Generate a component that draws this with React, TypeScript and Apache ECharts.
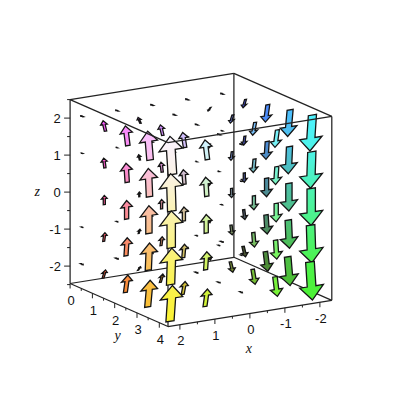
import React, { useEffect, useRef } from "react";
import * as echarts from "echarts";

const xs = [-2, -1, 0, 1, 2];
const ys = [0, 1, 2, 3, 4];
const zsDrawOrder = [2, 1, 0, -1, -2];
// vertical component: row per x, column per y
const vertical: Record<string, number[]> = {
  "-2": [0, -0.25, -0.5, -0.75, -1],
  "-1": [0, -0.125, -0.25, -0.375, -0.5],
  "0": [0, 0, 0, 0, 0],
  "1": [0, 0.125, 0.25, 0.375, 0.5],
  "2": [0, 0.25, 0.5, 0.75, 1],
};
// sideways (y-direction) component per z level
const lateral: Record<string, number> = { "2": -0.11, "1": -0.055, "0": 0, "-1": 0.055, "-2": 0.11 };
// colour channels
const redByX = [0.3, 0.47, 0.65, 0.82, 0.98];
const greenByY = [0.15, 0.35, 0.55, 0.75, 0.95];
const blueByZ = [0.2, 0.4, 0.6, 0.8, 1];

const zTicks = [-2, -1, 0, 1, 2];
const zMinor = [-2.5, -1.5, -0.5, 0.5, 1.5, 2.5];
const yTicks = [0, 1, 2, 3, 4];
const yMinor = [0.5, 1.5, 2.5, 3.5];
const xTicks = [2, 1, 0, -1, -2];
const xMinor = [1.5, 0.5, -0.5, -1.5];
const box = { xMin: -2.34, xMax: 2.34, yMin: 0, yMax: 4.39, zMin: -2.47, zMax: 2.5 };

const project = (x: number, y: number, z: number): [number, number] => [
  152 - 35 * x + 22.3 * y,
  179 + 5.6 * x + 9.8 * y - 37 * z,
];

const lookup = (table: number[], start: number, v: number) => {
  const p = Math.max(0, Math.min(table.length - 1, v - start));
  const i = Math.min(table.length - 2, Math.floor(p));
  return table[i] + (table[i + 1] - table[i]) * (p - i);
};
const colorAt = (x: number, y: number, z: number) => {
  const c = (v: number) => Math.round(v * 255);
  return `rgb(${c(lookup(redByX, -2, x))},${c(lookup(greenByY, 0, y))},${c(lookup(blueByZ, -2, z))})`;
};

type Seg = [number, number, number, number, number, number];
const { xMin, xMax, yMin, yMax, zMin, zMax } = box;
const backEdges: Seg[] = [
  [xMax, yMin, zMax, xMin, yMin, zMax],
  [xMin, yMin, zMax, xMin, yMax, zMax],
  [xMin, yMin, zMin, xMin, yMin, zMax],
  [xMin, yMin, zMin, xMax, yMin, zMin],
  [xMin, yMin, zMin, xMin, yMax, zMin],
  [xMax, yMin, zMin, xMax, yMin, zMax],
  [xMin, yMax, zMin, xMin, yMax, zMax],
  [xMax, yMax, zMin, xMax, yMin, zMin],
  [xMax, yMax, zMin, xMin, yMax, zMin],
];
const frontEdges: Seg[] = [
  [xMax, yMin, zMax, xMax, yMax, zMax],
  [xMax, yMax, zMax, xMin, yMax, zMax],
];
const frontVertical: Seg[] = [[xMax, yMax, zMin, xMax, yMax, zMax]];

const arrowData: number[][] = [];
xs.forEach((x) =>
  ys.forEach((y, yi) =>
    zsDrawOrder.forEach((z) => {
      const vz = vertical[String(x)][yi];
      const vy = lateral[String(z)];
      if (vz !== 0 || vy !== 0) arrowData.push([x, y, z, vy, vz]);
    })
  )
);

const segmentSeries = (segs: Seg[], z: number) => ({
  type: "custom",
  coordinateSystem: "cartesian2d",
  silent: true,
  clip: false,
  z,
  data: segs,
  renderItem: (_: any, api: any) => {
    const a = project(api.value(0), api.value(1), api.value(2));
    const b = project(api.value(3), api.value(4), api.value(5));
    const p = api.coord(a);
    const q = api.coord(b);
    return {
      type: "line",
      shape: { x1: p[0], y1: p[1], x2: q[0], y2: q[1] },
      style: { stroke: "#222222", lineWidth: 1.25, fill: null },
    };
  },
});

// [x, y, z, dx, dy] tick from a box point
const tickSeries = (rows: number[][]) => ({
  type: "custom",
  coordinateSystem: "cartesian2d",
  silent: true,
  clip: false,
  z: 2,
  data: rows,
  renderItem: (_: any, api: any) => {
    const p = api.coord(project(api.value(0), api.value(1), api.value(2)));
    return {
      type: "line",
      shape: { x1: p[0], y1: p[1], x2: p[0] + api.value(3), y2: p[1] + api.value(4) },
      style: { stroke: "#222222", lineWidth: 1, fill: null },
    };
  },
});

const textSeries = (rows: any[][], font: any) => ({
  type: "custom",
  coordinateSystem: "cartesian2d",
  silent: true,
  clip: false,
  z: 6,
  data: rows,
  renderItem: (params: any, api: any) => {
    const r = rows[params.dataIndex];
    const p = api.coord(project(r[0], r[1], r[2]));
    return {
      type: "text",
      x: p[0] + r[3],
      y: p[1] + r[4],
      style: { text: r[5], textAlign: "center", textVerticalAlign: "middle", fill: "#111", ...font },
    };
  },
});

const arrowSeries = {
  type: "custom",
  coordinateSystem: "cartesian2d",
  silent: true,
  clip: false,
  z: 3,
  data: arrowData,
  renderItem: (_: any, api: any) => {
    const x = api.value(0);
    const y = api.value(1);
    const z = api.value(2);
    const vy = api.value(3);
    const vz = api.value(4);
    const t = api.coord(project(x, y - vy / 2, z - vz / 2));
    const h = api.coord(project(x, y + vy / 2, z + vz / 2));
    const dx = h[0] - t[0];
    const dy = h[1] - t[1];
    const L = Math.hypot(dx, dy);
    const ux = dx / L;
    const uy = dy / L;
    const ex = -0.987;
    const ey = 0.158;
    const sh = 0.115 * L;
    const hh = 0.315 * L;
    const bx = h[0] - ux * 0.36 * L;
    const by = h[1] - uy * 0.36 * L;
    const points = [
      [t[0] + ex * sh, t[1] + ey * sh],
      [bx + ex * sh, by + ey * sh],
      [bx + ex * hh, by + ey * hh],
      h,
      [bx - ex * hh, by - ey * hh],
      [bx - ex * sh, by - ey * sh],
      [t[0] - ex * sh, t[1] - ey * sh],
    ];
    const top = z + Math.abs(vz) / 2;
    const bottom = z - Math.abs(vz) / 2;
    return {
      type: "polygon",
      shape: { points },
      style: {
        fill: new echarts.graphic.LinearGradient(0, 0, 0, 1, [
          { offset: 0, color: colorAt(x, y, top) },
          { offset: 1, color: colorAt(x, y, bottom) },
        ]),
        stroke: "#141414",
        lineWidth: 1.3,
        lineJoin: "miter",
      },
    };
  },
};

export default function App() {
  const ref = useRef<HTMLDivElement>(null);
  useEffect(() => {
    document.body.style.margin = "0";
    const chart = echarts.init(ref.current!, undefined, { renderer: "svg" });
    const numFont = { fontFamily: "Liberation Sans", fontSize: 13 };
    const axisFont = { fontFamily: "Liberation Serif", fontStyle: "italic", fontSize: 14 };
    chart.setOption({
      animation: false,
      backgroundColor: "#ffffff",
      grid: { left: 0, right: 0, top: 0, bottom: 0 },
      xAxis: { type: "value", min: 0, max: 400, show: false },
      yAxis: { type: "value", min: 0, max: 400, inverse: true, show: false },
      series: [
        segmentSeries(backEdges, 1),
        segmentSeries(frontVertical, 1),
        tickSeries([
          ...zTicks.map((z) => [xMax, yMin, z, -6, 0]),
          ...zMinor.map((z) => [xMax, yMin, z, -3, 0]),
          ...yTicks.map((y) => [xMax, y, zMin, 0, 5]),
          ...yMinor.map((y) => [xMax, y, zMin, 0, 2.5]),
          ...xTicks.map((x) => [x, yMax, zMin, 0, 5]),
          ...xMinor.map((x) => [x, yMax, zMin, 0, 2.5]),
        ]),
        arrowSeries,
        segmentSeries(frontEdges, 4),
        textSeries(
          [
            ...zTicks.map((z) => [xMax, yMin, z, z < 0 ? -15 : -13, 0, String(z)]),
            ...yTicks.map((y) => [xMax, y, zMin, 1, 17, String(y)]),
            ...xTicks.map((x) => [x, yMax, zMin, 1, 16, String(x)]),
          ],
          numFont
        ),
        textSeries(
          [
            [xMax, yMin, 0, -33, -1, "z"],
            [xMax, 2, zMin, 3, 32, "y"],
            [0, yMax, zMin, -1, 35, "x"],
          ],
          axisFont
        ),
      ],
    });
    return () => chart.dispose();
  }, []);
  return <div ref={ref} style={{ width: 400, height: 400 }} />;
}
